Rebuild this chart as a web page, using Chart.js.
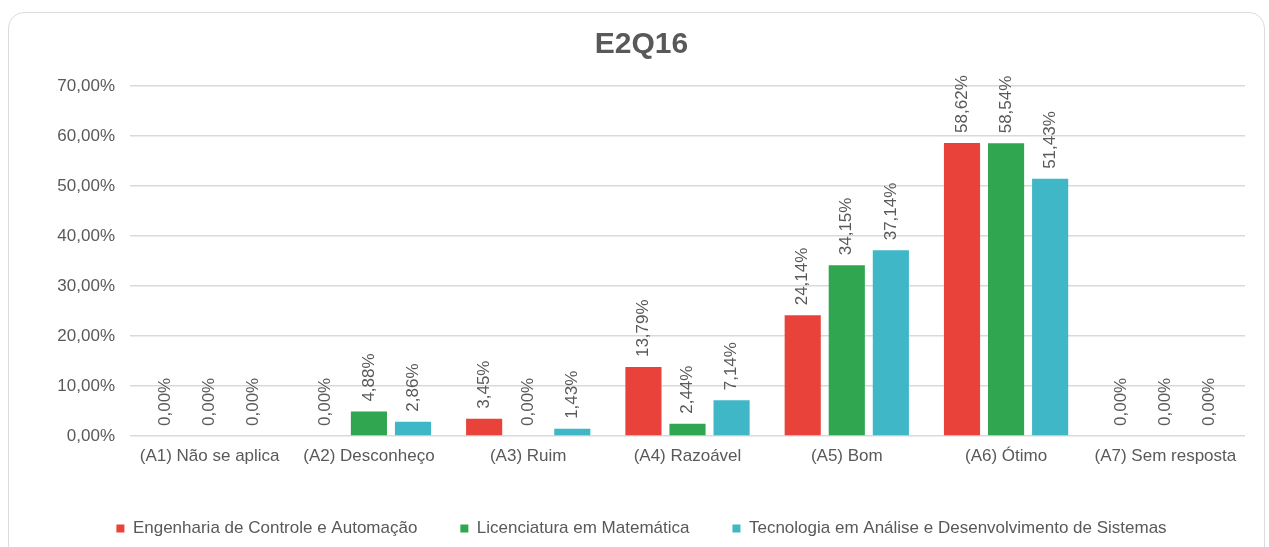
<!DOCTYPE html>
<html>
<head>
<meta charset="utf-8">
<script src="https://cdn.jsdelivr.net/npm/chart.js@4/dist/chart.umd.min.js"></script>
<style>
  html, body { margin: 0; padding: 0; background: #fff; }
  body { width: 1269px; height: 547px; position: relative; overflow: hidden; }
  #card { position: absolute; left: 8px; top: 12px; width: 1257px; height: 580px; border: 1.5px solid #dcdcdc; border-radius: 16px; box-sizing: border-box; }
  #wrap { position: absolute; left: 0; top: 0; width: 1269px; height: 547px; }
</style>
</head>
<body>
<div id="card"></div>
<div id="wrap"><canvas id="c" width="1269" height="547"></canvas></div>
<script>
const categories = ['(A1) Não se aplica', '(A2) Desconheço', '(A3) Ruim', '(A4) Razoável', '(A5) Bom', '(A6) Ótimo', '(A7) Sem resposta'];
const seriesNames = ['Engenharia de Controle e Automação', 'Licenciatura em Matemática', 'Tecnologia em Análise e Desenvolvimento de Sistemas'];
const engenharia = [0, 0, 3.45, 13.79, 24.14, 58.62, 0];
const licenciatura = [0, 4.88, 0, 2.44, 34.15, 58.54, 0];
const tecnologia = [0, 2.86, 1.43, 7.14, 37.14, 51.43, 0];
const yTicks = [0, 10, 20, 30, 40, 50, 60, 70];
const colors = ['#e9423a', '#30a650', '#3fb7c6'];

const FONT = '"Liberation Sans", Arial, sans-serif';
const fmt = v => v.toFixed(2).replace('.', ',') + '%';

const labelPlugin = {
  id: 'barLabels',
  afterDatasetsDraw(chart) {
    const ctx = chart.ctx;
    ctx.save();
    ctx.font = '17px ' + FONT;
    ctx.fillStyle = '#595959';
    ctx.textAlign = 'left';
    ctx.textBaseline = 'middle';
    chart.data.datasets.forEach((ds, i) => {
      const meta = chart.getDatasetMeta(i);
      meta.data.forEach((bar, j) => {
        ctx.save();
        ctx.translate(bar.x, bar.y - 10);
        ctx.rotate(-Math.PI / 2);
        ctx.fillText(fmt(ds.data[j]), 0, 0);
        ctx.restore();
      });
    });
    ctx.restore();
  }
};

new Chart(document.getElementById('c'), {
  type: 'bar',
  data: {
    labels: categories,
    datasets: [
      { label: seriesNames[0], data: engenharia, backgroundColor: colors[0] },
      { label: seriesNames[1], data: licenciatura, backgroundColor: colors[1] },
      { label: seriesNames[2], data: tecnologia, backgroundColor: colors[2] }
    ]
  },
  options: {
    responsive: false,
    animation: false,
    devicePixelRatio: 1,
    layout: { padding: { left: 38, right: 24, top: 27, bottom: 0 } },
    datasets: { bar: { categoryPercentage: 0.83, barPercentage: 0.82 } },
    plugins: {
      title: {
        display: true, text: 'E2Q16', color: '#595959',
        font: { family: FONT, size: 30, weight: 'bold' },
        padding: { top: 0, bottom: 23 }
      },
      legend: {
        position: 'bottom',
        labels: {
          color: '#595959', font: { family: FONT, size: 17 },
          boxWidth: 8, boxHeight: 8, padding: 43
        }
      },
      tooltip: { enabled: false }
    },
    scales: {
      x: {
        grid: { display: false, drawTicks: false },
        border: { display: false },
        ticks: { color: '#595959', font: { family: FONT, size: 17 }, padding: 10, maxRotation: 0, autoSkip: false },
        afterFit(scale) { scale.height = 41; }
      },
      y: {
        min: 0, max: 70,
        afterBuildTicks(scale) { scale.ticks = yTicks.map(v => ({ value: v })); },
        grid: { color: '#d9d9d9', lineWidth: 1.5, drawTicks: false },
        border: { display: false },
        ticks: { color: '#595959', font: { family: FONT, size: 17 }, padding: 15, callback: v => fmt(v) },
        afterFit(scale) { scale.width = 92; }
      }
    }
  },
  plugins: [labelPlugin]
});
</script>
</body>
</html>
